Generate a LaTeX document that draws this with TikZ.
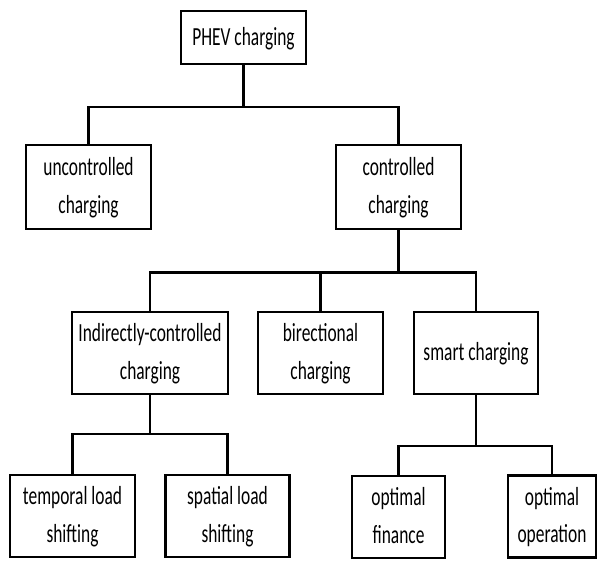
\documentclass[tikz,border=0pt]{standalone}
\usepackage{fontspec}
\setmainfont{Carlito}
\usepackage{graphicx}
\newcommand\lbl[1]{\scalebox{1}[1.5]{\fontsize{17.4}{25}\selectfont\begin{tabular}{@{}c@{}}#1\end{tabular}}}
\begin{document}
\begin{tikzpicture}[x=1pt,y=-1pt,
  box/.style={draw=black, line width=2.8pt, inner sep=0pt, minimum width=#1, minimum height=82pt, fill=white},
  box/.default=125pt,
  link/.style={draw=black, line width=2.6pt}]
\useasboundingbox (0,0) rectangle (597,560);
% nodes
\node[box=125pt, minimum height=53pt] (phev) at (243.5,37.5) {\lbl{PHEV charging}};
\node[box=125pt, minimum height=84pt] (unc) at (88.5,187) {\lbl{uncontrolled\\charging}};
\node[box=125pt, minimum height=84pt] (con) at (398.5,187) {\lbl{controlled\\charging}};
\node[box=156pt] (ind) at (150,353) {\lbl{Indirectly-controlled\\charging}};
\node[box=125pt] (bir) at (320.5,353) {\lbl{birectional\\charging}};
\node[box=124pt] (sma) at (476,353) {\lbl{smart charging}};
\node[box=125pt] (tem) at (72.5,516) {\lbl{temporal load\\shifting}};
\node[box=124pt] (spa) at (227.5,516) {\lbl{spatial load\\shifting}};
\node[box=93pt] (fin) at (398.5,517) {\lbl{optimal\\finance}};
\node[box=88pt] (ope) at (552,516.5) {\lbl{optimal\\operation}};
% junctions
\coordinate (j1) at (243.5,107);
\coordinate (j2) at (398.5,272.5);
\coordinate (j3) at (150,434);
\coordinate (j4) at (476,446);
% connectors
\draw[link] (phev.south) -- (j1);
\draw[link] (unc.north) |- (j1) -| (con.north);
\draw[link] (con.south) -- (j2);
\draw[link] (ind.north) |- (j2) -| (sma.north);
\draw[link] (bir.north) -- (bir.north |- j2);
\draw[link] (ind.south) -- (j3);
\draw[link] (tem.north) |- (j3) -| (spa.north);
\draw[link] (sma.south) -- (j4);
\draw[link] (fin.north) |- (j4) -| (ope.north);
\end{tikzpicture}
\end{document}
